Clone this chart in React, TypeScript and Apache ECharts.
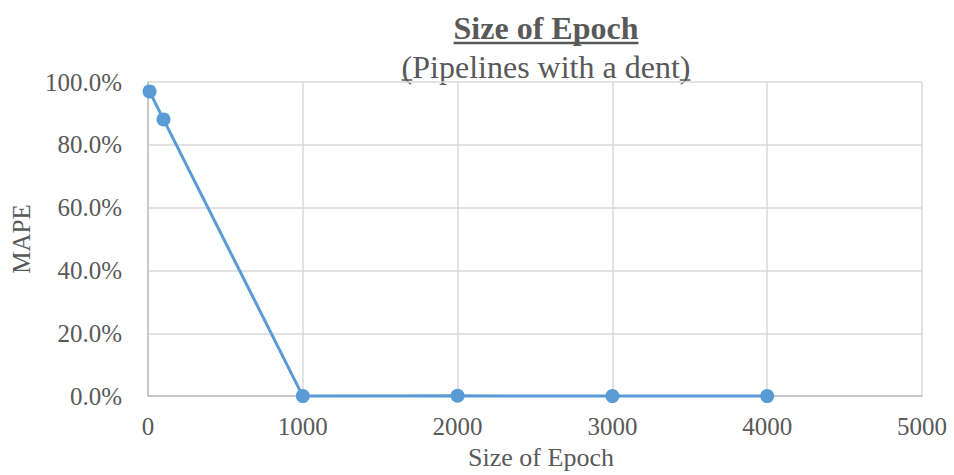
import React, { useEffect, useRef } from "react";
import * as echarts from "echarts";

// Epoch sizes and the resulting MAPE (as fractions)
const epochSizes = [10, 100, 1000, 2000, 3000, 4000];
const mapeValues = [0.97, 0.881, 0.0, 0.001, 0.0, 0.0];

const titleText = "Size of Epoch";
const subtitleText = "(Pipelines with a dent)";
const xAxisTitle = "Size of Epoch";
const yAxisTitle = "MAPE";

const FONT = "'Liberation Serif', 'Times New Roman', serif";
const TEXT_COLOR = "#595959";

function measure(text: string, font: string): number {
  const c = document.createElement("canvas");
  const ctx = c.getContext("2d")!;
  ctx.font = font;
  return ctx.measureText(text).width;
}

export default function App() {
  const ref = useRef<HTMLDivElement>(null);

  useEffect(() => {
    document.body.style.margin = "0";
    if (!ref.current) return;
    const chart = echarts.init(ref.current, undefined, { renderer: "svg" });
    const cx = 546;

    const titleSize = 32;
    const subSize = 32;
    const titleFont = `bold ${titleSize}px 'Liberation Serif'`;
    const subFont = `${subSize}px 'Liberation Serif'`;
    const tw = measure(titleText, titleFont);
    const sw = measure(subtitleText, subFont);
    const parenW = measure("(", subFont);
    const titleTop = 12;
    const subTop = 51;

    chart.setOption({
      animation: false,
      backgroundColor: "#ffffff",
      grid: { left: 148, width: 774, top: 82, height: 320 },
      xAxis: {
        type: "value",
        min: 0,
        max: 5000,
        interval: 1000,
        name: xAxisTitle,
        nameLocation: "middle",
        nameGap: 46,
        nameTextStyle: {
          fontFamily: FONT,
          fontSize: 26,
          color: TEXT_COLOR,
          padding: [0, 0, 0, 12],
        },
        axisLine: { show: true, lineStyle: { color: "#bfbfbf", width: 1.5 } },
        axisTick: { show: false },
        axisLabel: {
          fontFamily: FONT,
          fontSize: 25,
          color: TEXT_COLOR,
          margin: 18,
          formatter: (v: number) => String(v),
        },
        splitLine: { show: true, lineStyle: { color: "#d9d9d9", width: 1.5 } },
      },
      yAxis: {
        type: "value",
        min: 0,
        max: 1,
        interval: 0.2,
        name: yAxisTitle,
        nameLocation: "middle",
        nameGap: 113,
        nameRotate: 90,
        nameTextStyle: { fontFamily: FONT, fontSize: 25, color: TEXT_COLOR },
        axisLine: { show: true, lineStyle: { color: "#bfbfbf", width: 1.5 } },
        axisTick: { show: false },
        axisLabel: {
          fontFamily: FONT,
          fontSize: 25,
          color: TEXT_COLOR,
          margin: 26,
          formatter: (v: number) => (v * 100).toFixed(1) + "%",
        },
        splitLine: { show: true, lineStyle: { color: "#d9d9d9", width: 1.5 } },
      },
      graphic: [
        {
          type: "text",
          x: cx,
          y: titleTop,
          style: {
            text: titleText,
            font: titleFont,
            fill: TEXT_COLOR,
            align: "center",
            verticalAlign: "top",
          },
        },
        {
          type: "line",
          shape: { x1: cx - tw / 2, y1: 43, x2: cx + tw / 2, y2: 43 },
          style: { stroke: TEXT_COLOR, lineWidth: 2.5 },
        },
        {
          type: "text",
          x: cx,
          y: subTop,
          style: {
            text: subtitleText,
            font: subFont,
            fill: TEXT_COLOR,
            align: "center",
            verticalAlign: "top",
          },
        },
        {
          type: "line",
          shape: { x1: cx - sw / 2, y1: 80, x2: cx - sw / 2 + parenW, y2: 80 },
          style: { stroke: TEXT_COLOR, lineWidth: 1.5 },
        },
        {
          type: "line",
          shape: { x1: cx + sw / 2 - parenW, y1: 80, x2: cx + sw / 2, y2: 80 },
          style: { stroke: TEXT_COLOR, lineWidth: 1.5 },
        },
      ],
      series: [
        {
          type: "line",
          data: epochSizes.map((x, i) => [x, mapeValues[i]]),
          symbol: "circle",
          symbolSize: 14,
          lineStyle: { color: "#5b9bd5", width: 3 },
          itemStyle: { color: "#5b9bd5" },
          clip: false,
        },
      ],
    });
    return () => chart.dispose();
  }, []);

  return <div ref={ref} style={{ width: 954, height: 475 }} />;
}
